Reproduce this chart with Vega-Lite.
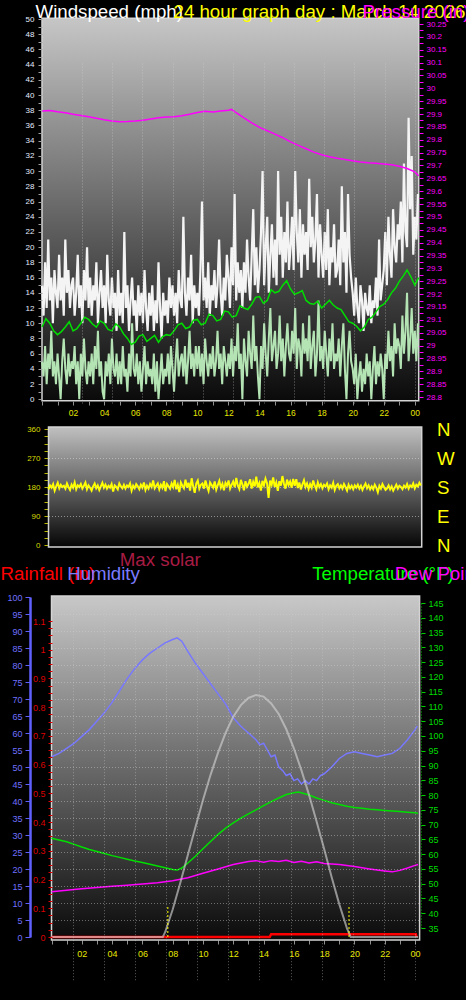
{
"$schema":"https://vega.github.io/schema/vega-lite/v6.json",
"width":466,"height":1000,"autosize":"none","padding":0,"background":"#000000",
"config":{"view":{"stroke":null},"axis":{"labelFont":"Liberation Sans","titleFont":"Liberation Sans","titleFontWeight":"normal","labelOverlap":false,"labelFlush":false,"zindex":1,"grid":false}},
"datasets":{
"fast":[
{"h":0,"g":15,"w":5,"d":173},{"h":0.1,"g":11,"w":3,"d":185},{"h":0.2,"g":18,"w":7,"d":178},{"h":0.3,"g":12,"w":2,"d":189},{"h":0.4,"g":21,"w":6,"d":169},{"h":0.5,"g":13,"w":4,"d":182},{"h":0.6,"g":16,"w":9,"d":193},{"h":0.7,"g":10,"w":3,"d":176},{"h":0.8,"g":17,"w":5,"d":187},{"h":0.9,"g":14,"w":2,"d":180},
{"h":1,"g":12,"w":6,"d":184},{"h":1.1,"g":19,"w":3,"d":175},{"h":1.2,"g":13,"w":0,"d":191},{"h":1.3,"g":16,"w":5,"d":180},{"h":1.4,"g":11,"w":8,"d":171},{"h":1.5,"g":21,"w":4,"d":187},{"h":1.6,"g":14,"w":2,"d":178},{"h":1.7,"g":17,"w":6,"d":194},{"h":1.8,"g":12,"w":3,"d":173},{"h":1.9,"g":15,"w":5,"d":185},
{"h":2,"g":16,"w":4,"d":180},{"h":2.1,"g":11,"w":7,"d":189},{"h":2.2,"g":14,"w":2,"d":175},{"h":2.3,"g":19,"w":5,"d":184},{"h":2.4,"g":12,"w":0,"d":194},{"h":2.5,"g":15,"w":6,"d":173},{"h":2.6,"g":10,"w":3,"d":185},{"h":2.7,"g":17,"w":8,"d":178},{"h":2.8,"g":13,"w":4,"d":169},{"h":2.9,"g":20,"w":2,"d":182},
{"h":3,"g":12,"w":5,"d":191},{"h":3.1,"g":16,"w":3,"d":176},{"h":3.2,"g":11,"w":6,"d":185},{"h":3.3,"g":15,"w":2,"d":171},{"h":3.4,"g":13,"w":7,"d":182},{"h":3.5,"g":18,"w":4,"d":193},{"h":3.6,"g":10,"w":9,"d":178},{"h":3.7,"g":14,"w":3,"d":187},{"h":3.8,"g":17,"w":5,"d":175},{"h":3.9,"g":12,"w":1,"d":184},
{"h":4,"g":15,"w":0,"d":178},{"h":4.1,"g":10,"w":5,"d":189},{"h":4.2,"g":19,"w":3,"d":166},{"h":4.3,"g":13,"w":6,"d":185},{"h":4.4,"g":11,"w":2,"d":180},{"h":4.5,"g":16,"w":8,"d":173},{"h":4.6,"g":12,"w":4,"d":191},{"h":4.7,"g":14,"w":3,"d":182},{"h":4.8,"g":9,"w":6,"d":176},{"h":4.9,"g":17,"w":2,"d":187},
{"h":5,"g":11,"w":5,"d":175},{"h":5.1,"g":14,"w":2,"d":185},{"h":5.2,"g":10,"w":7,"d":180},{"h":5.3,"g":22,"w":3,"d":191},{"h":5.4,"g":12,"w":4,"d":169},{"h":5.5,"g":15,"w":1,"d":184},{"h":5.6,"g":9,"w":6,"d":176},{"h":5.7,"g":13,"w":3,"d":189},{"h":5.8,"g":16,"w":10,"d":182},{"h":5.9,"g":11,"w":4,"d":173},
{"h":6,"g":13,"w":3,"d":187},{"h":6.1,"g":9,"w":6,"d":178},{"h":6.2,"g":15,"w":2,"d":194},{"h":6.3,"g":11,"w":5,"d":171},{"h":6.4,"g":14,"w":1,"d":184},{"h":6.5,"g":10,"w":4,"d":175},{"h":6.6,"g":17,"w":7,"d":189},{"h":6.7,"g":12,"w":2,"d":180},{"h":6.8,"g":9,"w":5,"d":200},{"h":6.9,"g":14,"w":3,"d":176},
{"h":7,"g":11,"w":4,"d":184},{"h":7.1,"g":15,"w":2,"d":191},{"h":7.2,"g":9,"w":6,"d":173},{"h":7.3,"g":13,"w":1,"d":187},{"h":7.4,"g":10,"w":5,"d":178},{"h":7.5,"g":18,"w":0,"d":198},{"h":7.6,"g":12,"w":3,"d":167},{"h":7.7,"g":8,"w":6,"d":189},{"h":7.8,"g":14,"w":2,"d":182},{"h":7.9,"g":11,"w":4,"d":175},
{"h":8,"g":13,"w":3,"d":191},{"h":8.1,"g":10,"w":6,"d":180},{"h":8.2,"g":16,"w":2,"d":202},{"h":8.3,"g":12,"w":7,"d":173},{"h":8.4,"g":15,"w":4,"d":187},{"h":8.5,"g":11,"w":1,"d":164},{"h":8.6,"g":14,"w":5,"d":194},{"h":8.7,"g":10,"w":8,"d":184},{"h":8.8,"g":17,"w":3,"d":176},{"h":8.9,"g":13,"w":5,"d":203},
{"h":9,"g":12,"w":6,"d":178},{"h":9.1,"g":24,"w":3,"d":193},{"h":9.2,"g":14,"w":7,"d":169},{"h":9.3,"g":11,"w":2,"d":207},{"h":9.4,"g":16,"w":5,"d":182},{"h":9.5,"g":13,"w":9,"d":162},{"h":9.6,"g":19,"w":4,"d":191},{"h":9.7,"g":10,"w":6,"d":200},{"h":9.8,"g":15,"w":3,"d":175},{"h":9.9,"g":12,"w":7,"d":187},
{"h":10,"g":14,"w":4,"d":191},{"h":10.1,"g":11,"w":7,"d":175},{"h":10.2,"g":17,"w":3,"d":200},{"h":10.3,"g":26,"w":6,"d":182},{"h":10.4,"g":13,"w":2,"d":168},{"h":10.5,"g":16,"w":8,"d":194},{"h":10.6,"g":12,"w":5,"d":186},{"h":10.7,"g":18,"w":3,"d":178},{"h":10.8,"g":11,"w":6,"d":197},{"h":10.9,"g":15,"w":4,"d":172},
{"h":11,"g":13,"w":7,"d":186},{"h":11.1,"g":17,"w":3,"d":199},{"h":11.2,"g":12,"w":5,"d":178},{"h":11.3,"g":15,"w":9,"d":190},{"h":11.4,"g":21,"w":4,"d":170},{"h":11.5,"g":14,"w":6,"d":193},{"h":11.6,"g":11,"w":2,"d":184},{"h":11.7,"g":16,"w":7,"d":200},{"h":11.8,"g":13,"w":5,"d":175},{"h":11.9,"g":19,"w":3,"d":187},
{"h":12,"g":16,"w":6,"d":197},{"h":12.1,"g":12,"w":4,"d":179},{"h":12.2,"g":20,"w":8,"d":208},{"h":12.3,"g":15,"w":3,"d":185},{"h":12.4,"g":27,"w":7,"d":174},{"h":12.5,"g":13,"w":5,"d":202},{"h":12.6,"g":18,"w":10,"d":188},{"h":12.7,"g":14,"w":4,"d":170},{"h":12.8,"g":17,"w":6,"d":198},{"h":12.9,"g":12,"w":0,"d":181},
{"h":13,"g":18,"w":8,"d":190},{"h":13.1,"g":14,"w":5,"d":204},{"h":13.2,"g":21,"w":3,"d":175},{"h":13.3,"g":16,"w":9,"d":196},{"h":13.4,"g":13,"w":6,"d":182},{"h":13.5,"g":19,"w":4,"d":212},{"h":13.6,"g":25,"w":11,"d":179},{"h":13.7,"g":15,"w":5,"d":192},{"h":13.8,"g":20,"w":7,"d":169},{"h":13.9,"g":14,"w":3,"d":199},
{"h":14,"g":17,"w":0,"d":185},{"h":14.1,"g":22,"w":7,"d":206},{"h":14.2,"g":30,"w":4,"d":192},{"h":14.3,"g":15,"w":10,"d":146},{"h":14.4,"g":20,"w":6,"d":200},{"h":14.5,"g":24,"w":3,"d":187},{"h":14.6,"g":14,"w":8,"d":210},{"h":14.7,"g":19,"w":12,"d":180},{"h":14.8,"g":23,"w":5,"d":194},{"h":14.9,"g":16,"w":7,"d":168},
{"h":15,"g":21,"w":9,"d":198},{"h":15.1,"g":15,"w":4,"d":184},{"h":15.2,"g":30,"w":6,"d":214},{"h":15.3,"g":19,"w":11,"d":190},{"h":15.4,"g":24,"w":5,"d":175},{"h":15.5,"g":16,"w":8,"d":203},{"h":15.6,"g":22,"w":3,"d":186},{"h":15.7,"g":18,"w":7,"d":197},{"h":15.8,"g":26,"w":10,"d":178},{"h":15.9,"g":17,"w":6,"d":205},
{"h":16,"g":20,"w":5,"d":184},{"h":16.1,"g":24,"w":9,"d":204},{"h":16.2,"g":17,"w":6,"d":177},{"h":16.3,"g":30,"w":12,"d":194},{"h":16.4,"g":22,"w":4,"d":172},{"h":16.5,"g":18,"w":8,"d":188},{"h":16.6,"g":25,"w":7,"d":201},{"h":16.7,"g":16,"w":3,"d":180},{"h":16.8,"g":23,"w":10,"d":191},{"h":16.9,"g":19,"w":6,"d":174},
{"h":17,"g":22,"w":8,"d":189},{"h":17.1,"g":17,"w":5,"d":178},{"h":17.2,"g":29,"w":11,"d":200},{"h":17.3,"g":20,"w":4,"d":184},{"h":17.4,"g":24,"w":7,"d":173},{"h":17.5,"g":18,"w":9,"d":194},{"h":17.6,"g":21,"w":3,"d":180},{"h":17.7,"g":27,"w":6,"d":189},{"h":17.8,"g":16,"w":13,"d":176},{"h":17.9,"g":23,"w":5,"d":187},
{"h":18,"g":19,"w":7,"d":182},{"h":18.1,"g":16,"w":4,"d":191},{"h":18.2,"g":22,"w":9,"d":173},{"h":18.3,"g":17,"w":6,"d":185},{"h":18.4,"g":25,"w":3,"d":178},{"h":18.5,"g":15,"w":8,"d":193},{"h":18.6,"g":20,"w":5,"d":171},{"h":18.7,"g":18,"w":10,"d":184},{"h":18.8,"g":23,"w":4,"d":189},{"h":18.9,"g":16,"w":6,"d":176},
{"h":19,"g":17,"w":5,"d":185},{"h":19.1,"g":21,"w":8,"d":175},{"h":19.2,"g":15,"w":3,"d":189},{"h":19.3,"g":28,"w":7,"d":180},{"h":19.4,"g":18,"w":10,"d":169},{"h":19.5,"g":22,"w":4,"d":187},{"h":19.6,"g":14,"w":0,"d":176},{"h":19.7,"g":27,"w":6,"d":184},{"h":19.8,"g":19,"w":9,"d":173},{"h":19.9,"g":16,"w":5,"d":185},
{"h":20,"g":14,"w":4,"d":178},{"h":20.1,"g":11,"w":2,"d":187},{"h":20.2,"g":16,"w":6,"d":175},{"h":20.3,"g":12,"w":0,"d":184},{"h":20.4,"g":10,"w":3,"d":171},{"h":20.5,"g":15,"w":5,"d":182},{"h":20.6,"g":13,"w":1,"d":191},{"h":20.7,"g":9,"w":4,"d":176},{"h":20.8,"g":14,"w":2,"d":185},{"h":20.9,"g":12,"w":6,"d":173},
{"h":21,"g":11,"w":3,"d":182},{"h":21.1,"g":15,"w":5,"d":173},{"h":21.2,"g":10,"w":0,"d":187},{"h":21.3,"g":13,"w":4,"d":178},{"h":21.4,"g":12,"w":7,"d":164},{"h":21.5,"g":16,"w":2,"d":184},{"h":21.6,"g":11,"w":5,"d":175},{"h":21.7,"g":21,"w":3,"d":189},{"h":21.8,"g":13,"w":6,"d":180},{"h":21.9,"g":15,"w":4,"d":171},
{"h":22,"g":17,"w":0,"d":176},{"h":22.1,"g":22,"w":6,"d":185},{"h":22.2,"g":15,"w":4,"d":173},{"h":22.3,"g":24,"w":9,"d":182},{"h":22.4,"g":19,"w":5,"d":169},{"h":22.5,"g":16,"w":7,"d":178},{"h":22.6,"g":25,"w":3,"d":187},{"h":22.7,"g":20,"w":10,"d":175},{"h":22.8,"g":18,"w":6,"d":184},{"h":22.9,"g":23,"w":8,"d":180},
{"h":23,"g":21,"w":7,"d":173},{"h":23.1,"g":26,"w":4,"d":184},{"h":23.2,"g":18,"w":11,"d":178},{"h":23.3,"g":31,"w":6,"d":189},{"h":23.4,"g":22,"w":9,"d":175},{"h":23.5,"g":20,"w":14,"d":185},{"h":23.6,"g":37,"w":5,"d":180},{"h":23.7,"g":25,"w":8,"d":191},{"h":23.8,"g":32,"w":12,"d":176},{"h":23.9,"g":19,"w":6,"d":187},
{"h":24,"g":24,"w":9,"d":182},{"h":24.1,"g":21,"w":5,"d":193},{"h":24.2,"g":27,"w":10,"d":185}
],
"avg":[
{"h":0,"a":9.5},{"h":0.25,"a":10.6},{"h":0.5,"a":10},{"h":0.75,"a":9},{"h":1,"a":8.5},{"h":1.25,"a":8.9},{"h":1.5,"a":9.5},{"h":1.75,"a":10.2},{"h":2,"a":9},{"h":2.25,"a":9.3},{"h":2.5,"a":10},{"h":2.75,"a":10.8},{"h":3,"a":10.5},{"h":3.25,"a":9.9},{"h":3.5,"a":9.5},{"h":3.75,"a":10.3},{"h":4,"a":10},{"h":4.25,"a":9.2},{"h":4.5,"a":9},{"h":4.75,"a":9.9},{"h":5,"a":9.5},{"h":5.25,"a":8.6},{"h":5.5,"a":8},{"h":5.75,"a":7.2},{"h":6,"a":7.5},{"h":6.25,"a":8.3},{"h":6.5,"a":8.5},{"h":6.75,"a":7.6},{"h":7,"a":8},{"h":7.25,"a":8.4},{"h":7.5,"a":7.5},{"h":7.75,"a":8.2},{"h":8,"a":8.5},{"h":8.25,"a":8.4},{"h":8.5,"a":9},{"h":8.75,"a":9.8},{"h":9,"a":10},{"h":9.25,"a":9.3},{"h":9.5,"a":9.5},{"h":9.75,"a":10.4},{"h":10,"a":10.5},{"h":10.25,"a":9.8},{"h":10.5,"a":10},{"h":10.75,"a":11.2},{"h":11,"a":11},{"h":11.25,"a":10.3},{"h":11.5,"a":10.5},{"h":11.75,"a":11.6},{"h":12,"a":11.5},{"h":12.25,"a":10.8},{"h":12.5,"a":11},{"h":12.75,"a":12.3},{"h":13,"a":12},{"h":13.25,"a":11.8},{"h":13.5,"a":12.5},{"h":13.75,"a":13.4},{"h":14,"a":13.5},{"h":14.25,"a":12.6},{"h":14.5,"a":13},{"h":14.75,"a":14.4},{"h":15,"a":14},{"h":15.25,"a":14.2},{"h":15.5,"a":15},{"h":15.75,"a":15.6},{"h":16,"a":14.5},{"h":16.25,"a":13.8},{"h":16.5,"a":14},{"h":16.75,"a":14.3},{"h":17,"a":13},{"h":17.25,"a":12.6},{"h":17.5,"a":12.5},{"h":17.75,"a":12.9},{"h":18,"a":12},{"h":18.25,"a":12.5},{"h":18.5,"a":13},{"h":18.75,"a":12.4},{"h":19,"a":12},{"h":19.25,"a":11.8},{"h":19.5,"a":11},{"h":19.75,"a":10.2},{"h":20,"a":10},{"h":20.25,"a":9.6},{"h":20.5,"a":9},{"h":20.75,"a":9.5},{"h":21,"a":10.5},{"h":21.25,"a":10.8},{"h":21.5,"a":11.5},{"h":21.75,"a":12.2},{"h":22,"a":12.5},{"h":22.25,"a":13.1},{"h":22.5,"a":14},{"h":22.75,"a":14.6},{"h":23,"a":15.5},{"h":23.25,"a":16.2},{"h":23.5,"a":17},{"h":23.75,"a":16.1},{"h":24,"a":15},{"h":24.25,"a":16}
],
"pres":[
{"h":0,"p":29.912},{"h":0.5,"p":29.914},{"h":1,"p":29.909},{"h":1.5,"p":29.905},{"h":2,"p":29.899},{"h":2.5,"p":29.894},{"h":3,"p":29.889},{"h":3.5,"p":29.884},{"h":4,"p":29.878},{"h":4.5,"p":29.873},{"h":5,"p":29.87},{"h":5.5,"p":29.871},{"h":6,"p":29.873},{"h":6.5,"p":29.876},{"h":7,"p":29.881},{"h":7.5,"p":29.886},{"h":8,"p":29.888},{"h":8.5,"p":29.889},{"h":9,"p":29.893},{"h":9.5,"p":29.899},{"h":10,"p":29.906},{"h":10.5,"p":29.911},{"h":11,"p":29.908},{"h":11.5,"p":29.912},{"h":12,"p":29.915},{"h":12.2,"p":29.918},{"h":12.5,"p":29.905},{"h":13,"p":29.885},{"h":13.5,"p":29.866},{"h":14,"p":29.848},{"h":14.5,"p":29.835},{"h":15,"p":29.822},{"h":15.5,"p":29.808},{"h":16,"p":29.792},{"h":16.5,"p":29.778},{"h":17,"p":29.765},{"h":17.5,"p":29.752},{"h":18,"p":29.742},{"h":18.5,"p":29.734},{"h":19,"p":29.728},{"h":19.5,"p":29.723},{"h":20,"p":29.718},{"h":20.5,"p":29.714},{"h":21,"p":29.711},{"h":21.5,"p":29.709},{"h":22,"p":29.706},{"h":22.5,"p":29.703},{"h":23,"p":29.697},{"h":23.5,"p":29.688},{"h":24,"p":29.675},{"h":24.25,"p":29.66}
],
"hum":[
{"h":0,"v":53},{"h":0.5,"v":54},{"h":1,"v":55.5},{"h":1.5,"v":57},{"h":2,"v":59},{"h":2.5,"v":61},{"h":3,"v":63.5},{"h":3.5,"v":66},{"h":4,"v":69},{"h":4.5,"v":72.5},{"h":5,"v":76},{"h":5.5,"v":79},{"h":6,"v":81.5},{"h":6.5,"v":83.5},{"h":7,"v":85},{"h":7.5,"v":86.5},{"h":8,"v":87.5},{"h":8.3,"v":88},{"h":8.6,"v":87},{"h":9,"v":84},{"h":9.5,"v":80.5},{"h":10,"v":77.5},{"h":10.5,"v":74.5},{"h":11,"v":71.5},{"h":11.5,"v":68.5},{"h":12,"v":64.5},{"h":12.5,"v":62},{"h":13,"v":60},{"h":13.5,"v":58},{"h":13.75,"v":56.5},{"h":14,"v":57},{"h":14.25,"v":55},{"h":14.5,"v":53},{"h":14.75,"v":53.5},{"h":15,"v":50},{"h":15.25,"v":49},{"h":15.5,"v":47.5},{"h":15.75,"v":48},{"h":16,"v":46},{"h":16.25,"v":46.5},{"h":16.5,"v":45},{"h":16.75,"v":46},{"h":17,"v":45},{"h":17.25,"v":46.5},{"h":17.5,"v":46},{"h":17.75,"v":47.5},{"h":18,"v":48},{"h":18.5,"v":50},{"h":19,"v":52.5},{"h":19.5,"v":54},{"h":20,"v":54.5},{"h":20.5,"v":54},{"h":21,"v":53.5},{"h":21.5,"v":53},{"h":22,"v":53.5},{"h":22.5,"v":54},{"h":23,"v":55.5},{"h":23.5,"v":58},{"h":24,"v":61},{"h":24.15,"v":62}
],
"temp":[
{"h":0,"v":65.4},{"h":0.5,"v":64.8},{"h":1,"v":64.2},{"h":1.5,"v":63.3},{"h":2,"v":62.4},{"h":2.5,"v":61.6},{"h":3,"v":60.9},{"h":3.5,"v":60.2},{"h":4,"v":59.5},{"h":4.5,"v":58.9},{"h":5,"v":58.3},{"h":5.5,"v":57.7},{"h":6,"v":57.2},{"h":6.5,"v":56.6},{"h":7,"v":56},{"h":7.5,"v":55.4},{"h":8,"v":54.8},{"h":8.3,"v":54.6},{"h":8.6,"v":55.3},{"h":9,"v":57},{"h":9.5,"v":59.3},{"h":10,"v":61.8},{"h":10.5,"v":64.3},{"h":11,"v":66.7},{"h":11.5,"v":68.8},{"h":12,"v":70.6},{"h":12.5,"v":72.2},{"h":13,"v":73.6},{"h":13.5,"v":75},{"h":14,"v":76.4},{"h":14.5,"v":77.8},{"h":15,"v":79},{"h":15.5,"v":80.2},{"h":16,"v":80.8},{"h":16.3,"v":81},{"h":16.6,"v":80.6},{"h":17,"v":80},{"h":17.5,"v":79},{"h":18,"v":78.2},{"h":18.5,"v":77.4},{"h":19,"v":76.8},{"h":19.5,"v":76.2},{"h":20,"v":75.8},{"h":20.5,"v":75.5},{"h":21,"v":75.2},{"h":21.5,"v":75},{"h":22,"v":74.8},{"h":22.5,"v":74.6},{"h":23,"v":74.4},{"h":23.5,"v":74.2},{"h":24,"v":74},{"h":24.2,"v":73.8}
],
"dew":[
{"h":0,"v":47.3},{"h":1,"v":47.8},{"h":2,"v":48.3},{"h":3,"v":48.7},{"h":4,"v":49.1},{"h":5,"v":49.5},{"h":6,"v":49.9},{"h":7,"v":50.3},{"h":8,"v":51},{"h":9,"v":52},{"h":10,"v":53.5},{"h":11,"v":55},{"h":12,"v":56.5},{"h":12.5,"v":57},{"h":13,"v":57.5},{"h":13.5,"v":57.8},{"h":14,"v":57.3},{"h":14.5,"v":57.8},{"h":15,"v":57.5},{"h":15.5,"v":57.9},{"h":16,"v":57.2},{"h":16.5,"v":57.6},{"h":17,"v":57},{"h":17.5,"v":57.4},{"h":18,"v":56.8},{"h":19,"v":56.5},{"h":20,"v":55.8},{"h":21,"v":55},{"h":22,"v":54.3},{"h":22.5,"v":54},{"h":23,"v":54.5},{"h":23.5,"v":55.3},{"h":24,"v":56.2},{"h":24.2,"v":56.5}
],
"solar":[
{"h":0,"v":0},{"h":7.35,"v":0},{"h":7.5,"v":14},{"h":8,"v":81},{"h":8.5,"v":159},{"h":9,"v":241},{"h":9.5,"v":323},{"h":10,"v":403},{"h":10.5,"v":477},{"h":11,"v":543},{"h":11.5,"v":601},{"h":12,"v":648},{"h":12.5,"v":682},{"h":13,"v":703},{"h":13.5,"v":712},{"h":14,"v":707},{"h":14.5,"v":687},{"h":15,"v":656},{"h":15.5,"v":611},{"h":16,"v":555},{"h":16.5,"v":490},{"h":17,"v":418},{"h":17.5,"v":340},{"h":18,"v":259},{"h":18.5,"v":175},{"h":19,"v":96},{"h":19.5,"v":26},{"h":19.75,"v":0},{"h":24.2,"v":0}
],
"rain":[
{"h":0,"v":0},{"h":14.4,"v":0},{"h":14.5,"v":0.01},{"h":24.05,"v":0.01},{"h":24.1,"v":0}
],
"sun":[{"h":7.68},{"h":19.64}]
},
"layer":[
{"data":{"values":[{}]},
 "mark":{"type":"rect","fill":{"gradient":"linear","x1":0,"y1":0,"x2":0,"y2":1,"stops":[{"offset":0,"color":"#c6c6c6"},{"offset":1,"color":"#0a0a0a"}]},"stroke":"#d4d4d4","strokeWidth":1.5},
 "encoding":{
  "x":{"datum":0,"type":"quantitative","scale":{"domain":[0,24.25],"range":[42,418.7],"nice":false,"zero":false},
   "axis":{"orient":"bottom","offset":-599,"values":[0,1,2,3,4,5,6,7,8,9,10,11,12,13,14,15,16,17,18,19,20,21,22,23,24],
    "labelExpr":"datum.value % 2 == 0 && datum.value > 0 ? ((datum.value % 24) < 10 ? '0' : '') + (datum.value % 24) : ''",
    "labelColor":"#e6e600","labelFontSize":8.5,"labelPadding":3,"tickColor":"#909090","tickSize":4,"domain":false,
    "title":"24 hour graph day : March 14 2026","titleColor":"#ffff00","titleX":173,"titleY":-384,"titleAngle":0,"titleAlign":"left","titleBaseline":"alphabetic","titleFontSize":18.7,"zindex":2}},
  "x2":{"datum":24.25},
  "y":{"datum":-0.2,"type":"quantitative","scale":{"domain":[0,50],"range":[399.3,19],"nice":false,"zero":false},
   "axis":{"orient":"left","offset":-42,"values":[0,1,2,3,4,5,6,7,8,9,10,11,12,13,14,15,16,17,18,19,20,21,22,23,24,25,26,27,28,29,30,31,32,33,34,35,36,37,38,39,40,41,42,43,44,45,46,47,48,49,50],
    "labelExpr":"datum.value % 2 == 0 ? datum.label : ''","labelColor":"#e4ecff","labelFontSize":8,"labelPadding":4,"tickColor":"#a0a0a0","tickSize":4,"domain":false,
    "title":"Windspeed (mph)","titleColor":"#ffffff","titleX":-7,"titleY":17,"titleAngle":0,"titleAlign":"left","titleBaseline":"alphabetic","titleFontSize":18.7,"zindex":1}},
  "y2":{"datum":50.1}}},
{"data":{"name":"fast"},"mark":{"type":"line","color":"#f4f4f4","strokeWidth":2.2},
 "encoding":{"x":{"field":"h","type":"quantitative","scale":{"domain":[0,24.25],"range":[42,418.7],"nice":false,"zero":false},
   "axis":{"orient":"bottom","values":[2,4,6,8,10,12,14,16,18,20,22,24],"grid":true,"gridColor":"#c8c8c8","gridDash":[1,2],"gridOpacity":0.45,"domain":false,"ticks":false,"labels":false,"title":null,"zindex":1}},
  "y":{"field":"g","type":"quantitative","scale":{"domain":[0,50],"range":[399.3,19],"nice":false,"zero":false},"axis":null}}},
{"data":{"name":"fast"},"mark":{"type":"line","color":"#b4e4b4","strokeWidth":2},
 "encoding":{"x":{"field":"h","type":"quantitative","scale":{"domain":[0,24.25],"range":[42,418.7],"nice":false,"zero":false},"axis":null},
  "y":{"field":"w","type":"quantitative","scale":{"domain":[0,50],"range":[399.3,19],"nice":false,"zero":false},"axis":null}}},
{"data":{"name":"avg"},"mark":{"type":"line","color":"#00dd00","strokeWidth":1.5},
 "encoding":{"x":{"field":"h","type":"quantitative","scale":{"domain":[0,24.25],"range":[42,418.7],"nice":false,"zero":false},"axis":null},
  "y":{"field":"a","type":"quantitative","scale":{"domain":[0,50],"range":[399.3,19],"nice":false,"zero":false},"axis":null}}},
{"data":{"name":"pres"},"mark":{"type":"line","color":"#ff00ff","strokeWidth":1.5},
 "encoding":{"x":{"field":"h","type":"quantitative","scale":{"domain":[0,24.25],"range":[42,418.7],"nice":false,"zero":false},"axis":null},
  "y":{"field":"p","type":"quantitative","scale":{"domain":[28.8,30.25],"range":[397,24],"nice":false,"zero":false},
   "axis":{"orient":"right","offset":-47,"values":[28.8,28.825,28.85,28.875,28.9,28.925,28.95,28.975,29,29.025,29.05,29.075,29.1,29.125,29.15,29.175,29.2,29.225,29.25,29.275,29.3,29.325,29.35,29.375,29.4,29.425,29.45,29.475,29.5,29.525,29.55,29.575,29.6,29.625,29.65,29.675,29.7,29.725,29.75,29.775,29.8,29.825,29.85,29.875,29.9,29.925,29.95,29.975,30,30.025,30.05,30.075,30.1,30.125,30.15,30.175,30.2,30.225,30.25],
    "labelExpr":"round(datum.value * 40) % 2 == 0 ? '' + round(datum.value * 100) / 100 : ''","labelColor":"#ff00ff","labelFontSize":8,"labelPadding":3,"tickColor":"#ff00ff","tickSize":4,"domain":false,
    "title":"Pressure (in)","titleColor":"#ff00ff","titleX":-57,"titleY":17,"titleAngle":0,"titleAlign":"left","titleBaseline":"alphabetic","titleFontSize":18.7,"zindex":3}}}},
{"data":{"values":[{}]},
 "mark":{"type":"rect","fill":{"gradient":"linear","x1":0,"y1":0,"x2":0,"y2":1,"stops":[{"offset":0,"color":"#c0c0c0"},{"offset":1,"color":"#050505"}]},"stroke":"#d4d4d4","strokeWidth":1.5},
 "encoding":{
  "x":{"datum":0,"type":"quantitative","scale":{"domain":[0,24.25],"range":[48.5,421.7],"nice":false,"zero":false},"axis":null},
  "x2":{"datum":24.25},
  "y":{"datum":-6,"type":"quantitative","scale":{"domain":[0,360],"range":[545,429],"nice":false,"zero":false},
   "axis":{"orient":"left","offset":-48,"values":[0,22.5,45,67.5,90,112.5,135,157.5,180,202.5,225,247.5,270,292.5,315,337.5,360],
    "labelExpr":"datum.value % 90 == 0 ? datum.label : ''","labelColor":"#d8d800","labelFontSize":8,"labelPadding":4,"tickColor":"#b8b800","tickSize":4,"domain":false,"title":null}},
  "y2":{"datum":366}}},
{"data":{"values":[{}]},
 "mark":{"type":"rect","opacity":0},
 "encoding":{
  "x":{"datum":0,"type":"quantitative","scale":{"domain":[0,24.25],"range":[48.5,421.7],"nice":false,"zero":false},"axis":null},
  "x2":{"datum":24.25},
  "y":{"datum":0,"type":"quantitative","scale":{"domain":[0,360],"range":[545,429],"nice":false,"zero":false},
   "axis":{"orient":"left","values":[90,180,270],"grid":true,"gridColor":"#d8d8d8","gridDash":[1,2],"gridOpacity":0.55,"domain":false,"ticks":false,"labels":false,"title":null,"zindex":1}},
  "y2":{"datum":360}}},
{"data":{"name":"fast"},"mark":{"type":"line","color":"#ffff00","strokeWidth":2},
 "encoding":{"x":{"field":"h","type":"quantitative","scale":{"domain":[0,24.25],"range":[48.5,421.7],"nice":false,"zero":false},"axis":null},
  "y":{"field":"d","type":"quantitative","scale":{"domain":[0,360],"range":[545,429],"nice":false,"zero":false},
   "axis":{"orient":"right","offset":-44,"values":[0,90,180,270,360],"labelExpr":"['N','E','S','W','N'][round(datum.value / 90)]","labelColor":"#ffff00","labelFontSize":18.7,"labelPadding":14.5,"labelBaseline":"middle","ticks":false,"domain":false,"title":null}}}},
{"data":{"values":[{}]},
 "mark":{"type":"rect","fill":{"gradient":"linear","x1":0,"y1":0,"x2":0,"y2":1,"stops":[{"offset":0,"color":"#c8c8c8"},{"offset":1,"color":"#0a0a0a"}]},"stroke":"#d4d4d4","strokeWidth":1.5},
 "encoding":{
  "x":{"datum":0,"type":"quantitative","scale":{"domain":[0,24.3],"range":[51.5,419.6],"nice":false,"zero":false},
   "axis":{"orient":"bottom","offset":-60,"values":[0,1,2,3,4,5,6,7,8,9,10,11,12,13,14,15,16,17,18,19,20,21,22,23,24],
    "labelExpr":"datum.value % 2 == 0 && datum.value > 0 ? ((datum.value % 24) < 10 ? '0' : '') + (datum.value % 24) : ''",
    "labelColor":"#e6e600","labelFontSize":9,"labelPadding":5,"tickColor":"#909090","tickSize":4,"domain":false,"title":null}},
  "x2":{"datum":24.3},
  "y":{"datum":-0.9,"type":"quantitative","scale":{"domain":[0,100],"range":[937,597],"nice":false,"zero":false},
   "axis":{"orient":"left","offset":-30,"values":[0,5,10,15,20,25,30,35,40,45,50,55,60,65,70,75,80,85,90,95,100],
    "labelColor":"#7070ff","labelFontSize":9,"labelPadding":3,"tickColor":"#6060ff","tickSize":5,"domainColor":"#6060ff","domainWidth":2.5,
    "title":"Humidity","titleColor":"#7b7bff","titleX":36.7,"titleY":579.3,"titleAngle":0,"titleAlign":"left","titleBaseline":"alphabetic","titleFontSize":18.7,"zindex":2}},
  "y2":{"datum":100.3}}},
{"data":{"name":"hum"},"mark":{"type":"line","color":"#7878ff","strokeWidth":1.5},
 "encoding":{"x":{"field":"h","type":"quantitative","scale":{"domain":[0,24.3],"range":[51.5,419.6],"nice":false,"zero":false},
   "axis":{"orient":"bottom","values":[2,4,6,8,10,12,14,16,18,20,22,24],"grid":true,"gridColor":"#d0d0d0","gridDash":[1,2],"gridOpacity":0.5,"domain":false,"ticks":false,"labels":false,"title":null,"zindex":1}},
  "y":{"field":"v","type":"quantitative","scale":{"domain":[0,100],"range":[937,597],"nice":false,"zero":false},
   "axis":{"orient":"left","values":[5,10,15,20,25,30,35,40,45,50,55,60,65,70,75,80,85,90,95],"grid":true,"gridColor":"#d0d0d0","gridDash":[1,2],"gridOpacity":0.45,"domain":false,"ticks":false,"labels":false,"title":null,"zindex":1}}}},
{"data":{"name":"temp"},"mark":{"type":"line","color":"#00e000","strokeWidth":1.5},
 "encoding":{"x":{"field":"h","type":"quantitative","scale":{"domain":[0,24.3],"range":[51.5,419.6],"nice":false,"zero":false},"axis":null},
  "y":{"field":"v","type":"quantitative","scale":{"domain":[35,145],"range":[928,603],"nice":false,"zero":false},
   "axis":{"orient":"right","offset":-45,"values":[35,40,45,50,55,60,65,70,75,80,85,90,95,100,105,110,115,120,125,130,135,140,145],
    "labelColor":"#00dd00","labelFontSize":9,"labelPadding":3,"tickColor":"#00cc00","tickSize":4,"domainColor":"#00b000","domainDash":[1,2],"domainWidth":1,
    "title":"Temperature (°F)","titleColor":"#00ff00","titleX":-109.3,"titleY":579.3,"titleAngle":0,"titleAlign":"left","titleBaseline":"alphabetic","titleFontSize":18.7,"zindex":1}}}},
{"data":{"name":"dew"},"mark":{"type":"line","color":"#ff00ff","strokeWidth":1.5},
 "encoding":{"x":{"field":"h","type":"quantitative","scale":{"domain":[0,24.3],"range":[51.5,419.6],"nice":false,"zero":false},"axis":null},
  "y":{"field":"v","type":"quantitative","scale":{"domain":[35,145],"range":[928,603],"nice":false,"zero":false},
   "axis":{"orient":"right","offset":-45,"labels":false,"ticks":false,"domain":false,
    "title":"Dew Point (°F)","titleColor":"#ff00ff","titleX":-26.7,"titleY":579.3,"titleAngle":0,"titleAlign":"left","titleBaseline":"alphabetic","titleFontSize":18.7,"zindex":3}}}},
{"data":{"name":"rain"},"mark":{"type":"line","color":"#ff0000","strokeWidth":2.5},
 "encoding":{"x":{"field":"h","type":"quantitative","scale":{"domain":[0,24.3],"range":[51.5,419.6],"nice":false,"zero":false},"axis":null},
  "y":{"field":"v","type":"quantitative","scale":{"domain":[0,1.1],"range":[937,621],"nice":false,"zero":false},
   "axis":{"orient":"left","offset":-52,"values":[0,0.025,0.05,0.075,0.1,0.125,0.15,0.175,0.2,0.225,0.25,0.275,0.3,0.325,0.35,0.375,0.4,0.425,0.45,0.475,0.5,0.525,0.55,0.575,0.6,0.625,0.65,0.675,0.7,0.725,0.75,0.775,0.8,0.825,0.85,0.875,0.9,0.925,0.95,0.975,1,1.025,1.05,1.075,1.1],
    "labelExpr":"round(datum.value * 40) % 4 == 0 ? '' + round(datum.value * 10) / 10 : ''","labelColor":"#dd0000","labelFontSize":9,"labelPadding":3,"tickColor":"#dd0000","tickSize":4,"domain":false,
    "title":"Rainfall (in)","titleColor":"#ff0000","titleX":-52,"titleY":579.3,"titleAngle":0,"titleAlign":"left","titleBaseline":"alphabetic","titleFontSize":18.7,"zindex":1}}}},
{"data":{"name":"solar"},"mark":{"type":"line","color":"#d0d0d0","strokeWidth":2,"opacity":0.65},
 "encoding":{"x":{"field":"h","type":"quantitative","scale":{"domain":[0,24.3],"range":[51.5,419.6],"nice":false,"zero":false},"axis":null},
  "y":{"field":"v","type":"quantitative","scale":{"domain":[0,1000],"range":[937,597],"nice":false,"zero":false},
   "axis":{"orient":"left","offset":-52,"labels":false,"ticks":false,"domain":false,
    "title":"Max solar","titleColor":"#a81c44","titleX":67.3,"titleY":565.7,"titleAngle":0,"titleAlign":"left","titleBaseline":"alphabetic","titleFontSize":18.7,"zindex":1}}}},
{"data":{"name":"sun"},"mark":{"type":"rule","color":"#ffff00","strokeWidth":1,"strokeDash":[2,2]},
 "encoding":{"x":{"field":"h","type":"quantitative","scale":{"domain":[0,24.3],"range":[51.5,419.6],"nice":false,"zero":false},"axis":null},
  "y":{"datum":0,"type":"quantitative","scale":{"domain":[0,100],"range":[937,597],"nice":false,"zero":false},"axis":null},
  "y2":{"datum":9.3}}}
],
"resolve":{"scale":{"x":"independent","y":"independent"},"axis":{"x":"independent","y":"independent"}}
}
